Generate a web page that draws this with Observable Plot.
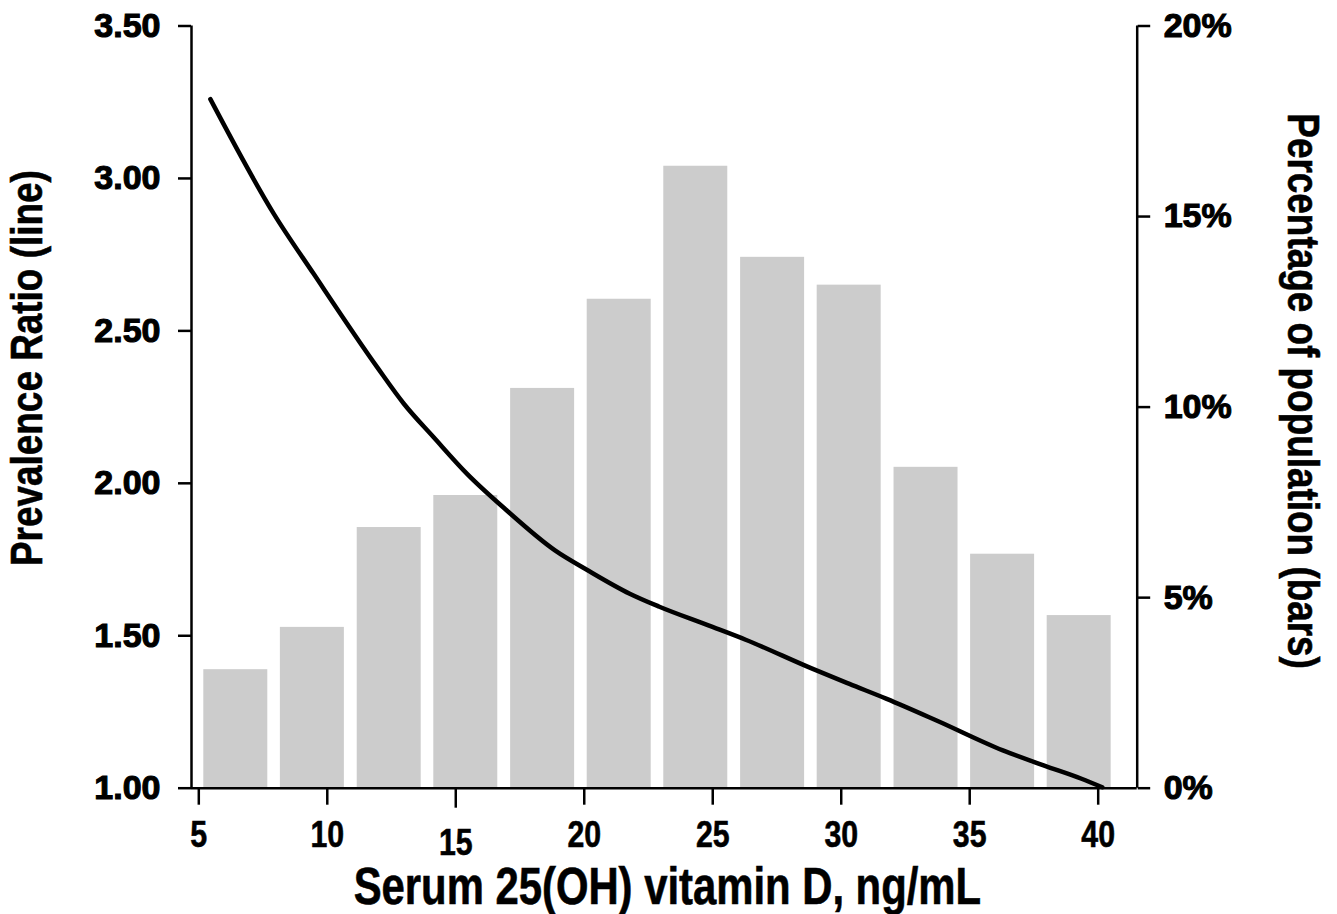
<!DOCTYPE html>
<html>
<head>
<meta charset="utf-8">
<script src="https://cdn.jsdelivr.net/npm/d3@7"></script>
<script src="https://cdn.jsdelivr.net/npm/@observablehq/plot@0.6"></script>
<style>
  html, body { margin: 0; padding: 0; background: #fff; }
</style>
</head>
<body>
<div id="chart"></div>
<script>
// ---- data ----
const binCenters = [6.44, 9.42, 12.41, 15.39, 18.38, 21.36, 24.34, 27.33, 30.31, 33.30, 36.28, 39.26];
const pctValues  = [3.11, 4.22, 6.84, 7.68, 10.49, 12.83, 16.32, 13.93, 13.20, 8.42, 6.14, 4.53];

const lineX = [5.45, 7.92, 9.47, 11.94, 12.98, 14.14, 15.44, 16.93, 18.86, 20.15, 21.77, 22.9, 24.83, 26.28, 28.87, 30.32, 31.77, 33.71, 36.29, 37.9, 39.35, 40.16];
const lineY = [3.26, 2.884, 2.687, 2.381, 2.261, 2.151, 2.031, 1.915, 1.780, 1.714, 1.638, 1.596, 1.534, 1.487, 1.392, 1.342, 1.293, 1.222, 1.124, 1.074, 1.031, 1.003];

const xTicks = [5, 10, 15, 20, 25, 30, 35, 40];
const yTicks = [1.0, 1.5, 2.0, 2.5, 3.0, 3.5];
const pctTicks = [0, 5, 10, 15, 20];

const xTitle = "Serum 25(OH) vitamin D, ng/mL";
const yTitle = "Prevalence Ratio (line)";
const y2Title = "Percentage of population (bars)";

// ---- derived tables ----
const yDomain = [1, 3.5];
const pctMax = 20;
const pctToY = p => yDomain[0] + p * (yDomain[1] - yDomain[0]) / pctMax;
const xDomain = [4.716, 41.518];
const barHalf = 1.245;

const bars = binCenters.map((c, i) => ({c, pct: pctValues[i]}));
const line = lineX.map((x, i) => ({x, y: lineY[i]}));

// unquoted family = text to be condensed afterwards (no narrow face installed)
const narrow = "Liberation Sans, Arial, sans-serif";
const wide = "'Liberation Sans', Arial, sans-serif";
const AX = 2.5;

const chart = Plot.plot({
  width: 1337,
  height: 914,
  marginLeft: 191,
  marginRight: 200.3,
  marginTop: 25.5,
  marginBottom: 126.3,
  x: {domain: xDomain, label: null},
  y: {domain: yDomain, label: null},
  marks: [
    Plot.rectY(bars, {x1: d => d.c - barHalf, x2: d => d.c + barHalf, y1: yDomain[0], y2: d => pctToY(d.pct), fill: "#cccccc"}),
    Plot.line(line, {x: "x", y: "y", stroke: "#000", strokeWidth: 4.5, curve: "monotone-x"}),
    Plot.ruleX([xDomain[0]], {y1: yDomain[0], y2: yDomain[1], stroke: "#000", strokeWidth: AX}),
    Plot.ruleX([xDomain[1]], {y1: yDomain[0], y2: yDomain[1], stroke: "#000", strokeWidth: AX}),
    Plot.ruleY([yDomain[0]], {stroke: "#000", strokeWidth: AX}),
    Plot.axisY(yTicks, {anchor: "left", tickSize: 13, tickPadding: 18, tickFormat: d => d.toFixed(2),
      fontSize: 34, fontWeight: "bold", fontFamily: wide, strokeWidth: AX, label: null}),
    Plot.axisY(pctTicks.map(pctToY), {anchor: "right", tickSize: 12.5, tickPadding: 14,
      tickFormat: d => Math.round((d - yDomain[0]) * pctMax / (yDomain[1] - yDomain[0])) + "%",
      fontSize: 34, fontWeight: "bold", fontFamily: wide, strokeWidth: AX, label: null}),
    Plot.axisX(xTicks.filter(t => t !== 15), {anchor: "bottom", tickSize: 17, tickPadding: 16,
      fontSize: 37, fontWeight: "bold", fontFamily: narrow, strokeWidth: AX, label: null}),
    Plot.axisX(xTicks.filter(t => t === 15), {anchor: "bottom", tickSize: 20, tickPadding: 21,
      fontSize: 37, fontWeight: "bold", fontFamily: narrow, strokeWidth: AX, label: null}),
    Plot.text([yTitle], {frameAnchor: "left", textAnchor: "middle", lineAnchor: "middle", dx: -163.5, dy: -39, rotate: -90,
      fontSize: 45, fontWeight: "bold", fontFamily: narrow}),
    Plot.text([y2Title], {frameAnchor: "right", textAnchor: "middle", lineAnchor: "middle", dx: 165, dy: -16, rotate: 90,
      fontSize: 45, fontWeight: "bold", fontFamily: narrow}),
    Plot.text([xTitle], {frameAnchor: "bottom", textAnchor: "middle", lineAnchor: "middle", dx: 3, dy: 99,
      fontSize: 51, fontWeight: "bold", fontFamily: narrow})
  ]
});
document.getElementById("chart").appendChild(chart);

// condense the "narrow" texts and thicken all labels a little
chart.querySelectorAll('g[font-family^="Liberation"] text').forEach(t => {
  const L = t.getComputedTextLength();
  t.setAttribute("textLength", (L * 0.82).toFixed(1));
  t.setAttribute("lengthAdjust", "spacingAndGlyphs");
  t.setAttribute("stroke", "#000");
  t.setAttribute("stroke-width", "0.6");
  t.setAttribute("paint-order", "stroke");
});
chart.querySelectorAll('g[font-family^="\'"] text').forEach(t => {
  t.setAttribute("stroke", "#000");
  t.setAttribute("stroke-width", "1.1");
  t.setAttribute("paint-order", "stroke");
});
</script>
</body>
</html>
